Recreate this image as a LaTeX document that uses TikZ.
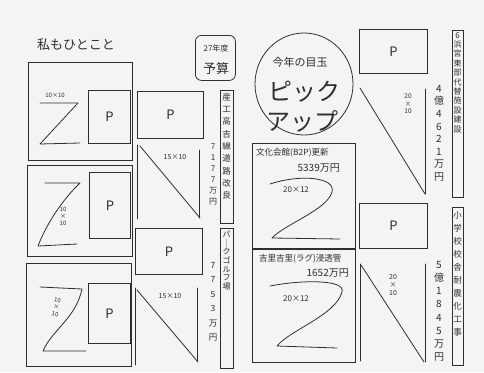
\documentclass[tikz,border=0pt]{standalone}
\usepackage{fontspec}
\usetikzlibrary{shapes.geometric}
\setmainfont{Noto Sans CJK JP}
\definecolor{ink}{HTML}{2E2E2E}
\definecolor{paper}{HTML}{F4F4F4}
\begin{document}
\begin{tikzpicture}[x=1pt,y=-1pt,
  box/.style={draw=ink, line width=0.8pt, inner sep=0pt, anchor=north west, text=ink, font=\fontsize{13}{13}\selectfont},
  sk/.style={draw=ink, line width=0.8pt, line join=round, line cap=round},
  lbl/.style={text=ink, inner sep=0pt},
  vtxt/.style={text=ink, inner sep=0pt, anchor=north, align=center}]
\fill[paper] (0,0) rectangle (484,372);
\useasboundingbox (0,0) rectangle (484,372);

% title
\node[lbl, font=\fontsize{13}{13}\selectfont] (title) at (76,45) {私もひとこと};
\node[box, rounded corners=6pt, minimum width=40pt, minimum height=45pt] (budget) at (195,35) {};
\node[lbl, font=\fontsize{8}{8}\selectfont] (year) at (216,48) {27年度};
\node[lbl, font=\fontsize{13}{13}\selectfont] (yosan) at (216,69) {予算};

% left column boxes
\node[box, minimum width=104pt, minimum height=98pt] (b1) at (28,62) {};
\node[box, minimum width=105pt, minimum height=91pt] (b2) at (27,165) {};
\node[box, minimum width=105pt, minimum height=103pt] (b3) at (26,263) {};
\node[box, minimum width=42pt, minimum height=53pt] (p1) at (88,90) {P};
\node[box, minimum width=41pt, minimum height=66pt] (p2) at (89,172) {P};
\node[box, minimum width=42pt, minimum height=60pt] (p3) at (88,283) {P};

% Z shapes left
\node[lbl, font=\fontsize{6}{6}\selectfont] (z1l) at (55,95) {10×10};
\draw[sk] (40,103) -- (78,103) -- (40,144) -- (80,143);
\node[vtxt, font=\fontsize{6}{7}\selectfont] (z2l) at (63,207) {10\\×\\10};
\draw[sk] (45,183) -- (80,183) .. controls (62,200) and (46,225) .. (38,246) -- (77,244);
\node[vtxt, font=\fontsize{6}{7}\selectfont, rotate=-10] (z3l) at (58,298) {10\\×\\10};
\draw[sk] (40,287) -- (82,289) .. controls (76,318) and (52,330) .. (43,351) -- (86,351);

% second column
\node[box, minimum width=66pt, minimum height=47pt] (p4) at (137,91) {P};
\node[box, minimum width=67pt, minimum height=46pt] (p5) at (135,228) {P};
\node[lbl, font=\fontsize{7}{7}\selectfont] (t1l) at (175,157) {15×10};
\draw[sk] (137,145) -- (137,219);
\draw[sk] (140,146) -- (200,218);
\draw[sk] (199,150) -- (199,218);
\node[lbl, font=\fontsize{7}{7}\selectfont] (t2l) at (170,296) {15×10};
\draw[sk] (135,288) -- (135,365);
\draw[sk] (137,290) -- (198,362);
\draw[sk] (197,288) -- (197,361);

% vertical labels column 3
\node[box, minimum width=13pt, minimum height=133pt] (v1) at (220,90) {};
\node[vtxt, font=\fontsize{8.5}{12.3}\selectfont] (v1t) at (226.5,93) {産\\工\\高\\吉\\線\\道\\路\\改\\良};
\node[vtxt, font=\fontsize{8}{11}\selectfont] (v1n) at (213,144) {7\\1\\7\\7\\万\\円};
\node[box, minimum width=13pt, minimum height=140pt] (v2) at (220,228) {};
\node[vtxt, font=\fontsize{8}{8.6}\selectfont] (v2t) at (226.5,231) {パ\\｜\\ク\\ゴ\\ル\\フ\\場};
\node[vtxt, font=\fontsize{8.5}{14.5}\selectfont] (v2n) at (213,262) {7\\7\\5\\3\\万\\円};

% pick-up circle
\node[draw=ink, line width=0.8pt, ellipse, minimum width=98pt, minimum height=102pt, inner sep=0pt] (circ) at (304,84) {};
\node[lbl, font=\fontsize{11}{11}\selectfont] (c1) at (300,62) {今年の目玉};
\node[lbl, font=\fontsize{24}{24}\selectfont] (c2) at (304,92) {ピック};
\node[lbl, font=\fontsize{24}{24}\selectfont] (c3) at (302,121) {アップ};

% centre boxes
\node[box, minimum width=103pt, minimum height=105pt] (cb1) at (252,143) {};
\node[lbl, font=\fontsize{8.5}{8.5}\selectfont, anchor=west] (cb1t) at (256,153) {文化会館(B2P)更新};
\node[lbl, font=\fontsize{10}{10}\selectfont, anchor=east] (cb1n) at (340,168) {5339万円};
\node[lbl, font=\fontsize{8}{8}\selectfont] (z4l) at (296,190) {20×12};
\draw[sk] (270,184) .. controls (300,174) and (336,177) .. (332,192) .. controls (327,210) and (285,224) .. (272,238) -- (340,239);
\node[box, minimum width=103pt, minimum height=113pt] (cb2) at (252,249) {};
\node[lbl, font=\fontsize{8.5}{8.5}\selectfont, anchor=west] (cb2t) at (259,259) {吉里吉里(ラグ)浸透管};
\node[lbl, font=\fontsize{10}{10}\selectfont, anchor=east] (cb2n) at (349,273) {1652万円};
\node[lbl, font=\fontsize{8}{8}\selectfont] (z5l) at (296,299) {20×12};
\draw[sk] (270,286) .. controls (300,280) and (346,279) .. (342,292) .. controls (336,315) and (290,330) .. (277,346) -- (337,348);

% right column
\node[box, minimum width=68pt, minimum height=44pt] (p6) at (359,29) {P};
\draw[sk] (360,88) -- (425,194);
\draw[sk] (425,89) -- (425,194);
\node[vtxt, font=\fontsize{6.5}{7.5}\selectfont] (t3l) at (408,94) {20\\×\\10};
\node[box, minimum width=68pt, minimum height=45pt] (p7) at (359,203) {P};
\draw[sk] (360,264) -- (360,361);
\draw[sk] (361,265) -- (424,362);
\draw[sk] (425,264) -- (425,362);
\node[vtxt, font=\fontsize{7}{8}\selectfont] (t4l) at (393,274) {20\\×\\10};

% far right vertical labels
\node[box, minimum width=11pt, minimum height=167pt] (v3) at (452,30) {};
\node[vtxt, font=\fontsize{8}{9.4}\selectfont] (v3t) at (457.5,32) {6\\浜\\宮\\東\\部\\代\\替\\施\\設\\建\\設};
\node[vtxt, font=\fontsize{10}{12.6}\selectfont] (v3n) at (439,85) {4\\億\\4\\6\\2\\1\\万\\円};
\node[box, minimum width=11pt, minimum height=158pt] (v4) at (452,207) {};
\node[vtxt, font=\fontsize{8.5}{13}\selectfont] (v4t) at (457.5,211) {小\\学\\校\\校\\舎\\耐\\震\\化\\工\\事};
\node[vtxt, font=\fontsize{10}{13.2}\selectfont] (v4n) at (439,261) {5\\億\\1\\8\\4\\5\\万\\円};
\end{tikzpicture}
\end{document}
